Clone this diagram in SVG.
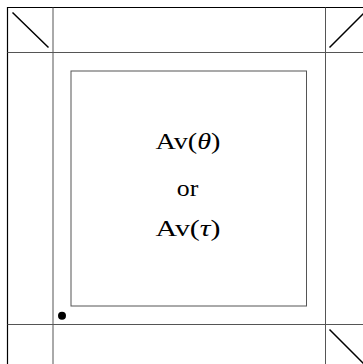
<svg xmlns="http://www.w3.org/2000/svg" width="363" height="364" viewBox="0 0 363 364">
<style>
.grid{stroke:#555;stroke-width:1;fill:none}
.frame{stroke:#000;stroke-width:1.2;fill:none}
.diag{stroke:#000;stroke-width:1.5;fill:none}
.lbl{font-family:"Liberation Serif","DejaVu Serif",serif;font-size:23px;fill:#000;text-anchor:middle}
</style>
<rect width="363" height="364" fill="#fff"/>
<g id="frame">
<path class="frame" d="M7.5,364V7.5H363"/>
</g>
<g id="grid">
<path class="grid" d="M53,7.5V364M325.5,7.5V364M7.5,52.5H363M7.5,324.5H363"/>
</g>
<g id="diagonals">
<path class="diag" d="M12.5,12.5L48.5,47.5M329.5,47.5L365,12M329.5,329.5L365,365"/>
</g>
<g id="box">
<rect class="grid" x="71" y="71" width="235.5" height="235"/>
<text class="lbl" x="188" y="148.5" textLength="65" lengthAdjust="spacingAndGlyphs">Av(<tspan font-style="italic">θ</tspan>)</text>
<text class="lbl" x="187.5" y="196" textLength="21.5" lengthAdjust="spacingAndGlyphs">or</text>
<text class="lbl" x="188" y="235.5" textLength="65" lengthAdjust="spacingAndGlyphs">Av(<tspan font-style="italic">τ</tspan>)</text>
</g>
<g id="dot">
<circle cx="62" cy="315.7" r="4" fill="#000"/>
</g>
</svg>
